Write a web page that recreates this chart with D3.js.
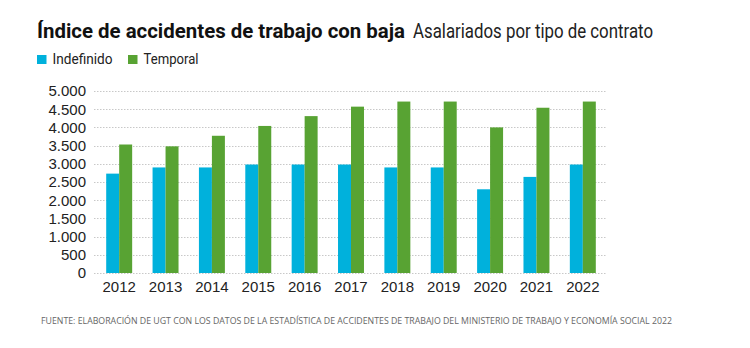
<!DOCTYPE html>
<html>
<head>
<meta charset="utf-8">
<script src="https://cdn.jsdelivr.net/npm/d3@7"></script>
<style>
  body { margin: 0; background: #fff; }
  svg { display: block; }
</style>
</head>
<body>
<svg class="chart" width="750" height="348"></svg>
<script>
let years = ["2012","2013","2014","2015","2016","2017","2018","2019","2020","2021","2022"];
let indefinido = [2730, 2900, 2900, 2980, 2980, 2980, 2900, 2900, 2300, 2640, 2980];
let temporal = [3530, 3480, 3770, 4040, 4310, 4570, 4710, 4710, 4000, 4540, 4710];
let seriesNames = ["Indefinido", "Temporal"];
let yTicks = [0, 500, 1000, 1500, 2000, 2500, 3000, 3500, 4000, 4500, 5000];

let colors = ["#00b1dc", "#58a333"];

let svg = d3.select("svg.chart");

let margin = {top: 91, left: 96, right: 144, bottom: 75};
let plotWidth = 750 - margin.left - margin.right;
let plotHeight = 348 - margin.top - margin.bottom;

let x = d3.scaleBand()
  .domain(years)
  .range([0, plotWidth])
  .paddingInner(0.44)
  .paddingOuter(0.22);
let xSub = d3.scaleBand()
  .domain(seriesNames)
  .range([0, x.bandwidth()]);
let y = d3.scaleLinear()
  .domain([0, 5000])
  .range([plotHeight, 0]);

let fmt = d => d3.format(",")(d).replace(/,/g, ".");

let plot = svg.append("g").attr("transform", translate(margin.left, margin.top));

// grid
plot.append("g").selectAll("line")
  .data(yTicks)
  .join("line")
  .attr("x1", -2).attr("x2", plotWidth + 1)
  .attr("y1", d => Math.round(y(d)) + 0.5).attr("y2", d => Math.round(y(d)) + 0.5)
  .attr("stroke", "#c8c8c8")
  .attr("stroke-dasharray", "1.5,1.5");

// y axis
let yAxis = d3.axisLeft(y).tickValues(yTicks).tickFormat(fmt).tickSize(0).tickPadding(10);
let yGroup = plot.append("g").call(yAxis);
yGroup.select(".domain").remove();
yGroup.selectAll("text")
  .attr("fill", "#222")
  .style("font-family", "Liberation Sans, Arial, sans-serif")
  .style("font-size", "15px");

// bars
let rows = years.map((yr, i) => ({year: yr, values: [indefinido[i], temporal[i]]}));
let groups = plot.selectAll(".grp")
  .data(rows)
  .join("g")
  .attr("class", "grp")
  .attr("transform", d => translate(x(d.year), 0));
groups.selectAll("rect")
  .data(d => d.values.map((v, j) => ({key: seriesNames[j], v: v, j: j})))
  .join("rect")
  .attr("x", d => xSub(d.key))
  .attr("width", xSub.bandwidth())
  .attr("y", d => y(d.v))
  .attr("height", d => plotHeight - y(d.v))
  .attr("fill", d => colors[d.j]);

// x axis
let xAxis = d3.axisBottom(x).tickSize(0).tickPadding(8);
let xGroup = plot.append("g").attr("transform", translate(0, plotHeight)).call(xAxis);
xGroup.select(".domain").remove();
xGroup.selectAll("text")
  .attr("fill", "#222")
  .style("font-family", "Liberation Sans, Arial, sans-serif")
  .style("font-size", "15px");

// title (condensed face in the original, so squeeze to its width)
svg.append("text")
  .attr("x", 37).attr("y", 38)
  .attr("textLength", 368).attr("lengthAdjust", "spacingAndGlyphs")
  .style("font-family", "Roboto, sans-serif")
  .style("font-size", "21px")
  .style("font-weight", "bold")
  .attr("fill", "#111")
  .text("Índice de accidentes de trabajo con baja");
svg.append("text")
  .attr("x", 413).attr("y", 38)
  .attr("textLength", 240).attr("lengthAdjust", "spacingAndGlyphs")
  .style("font-family", "Roboto, sans-serif")
  .style("font-size", "21px")
  .style("font-weight", "normal")
  .attr("fill", "#222")
  .text("Asalariados por tipo de contrato");

// legend
let legendX = [37, 128];
let legend = svg.append("g").selectAll("g")
  .data(seriesNames)
  .join("g")
  .attr("transform", (d, i) => translate(legendX[i], 55));
legend.append("rect").attr("width", 9.5).attr("height", 9).attr("fill", (d, i) => colors[i]);
legend.append("text")
  .attr("x", 15.5).attr("y", 9)
  .attr("textLength", (d, i) => [60, 55][i]).attr("lengthAdjust", "spacingAndGlyphs")
  .style("font-family", "Roboto, sans-serif")
  .style("font-size", "14.5px")
  .attr("fill", "#222")
  .text(d => d);

// source
svg.append("text")
  .attr("x", 41).attr("y", 324)
  .attr("textLength", 631).attr("lengthAdjust", "spacingAndGlyphs")
  .style("font-family", "'Open Sans', sans-serif")
  .style("font-size", "8.5px")
  .attr("fill", "#666")
  .text("FUENTE: ELABORACIÓN DE UGT CON LOS DATOS DE LA ESTADÍSTICA DE ACCIDENTES DE TRABAJO DEL MINISTERIO DE TRABAJO Y ECONOMÍA SOCIAL 2022");

function translate(x, y) {
  return "translate(" + x + "," + y + ")";
}
</script>
</body>
</html>
